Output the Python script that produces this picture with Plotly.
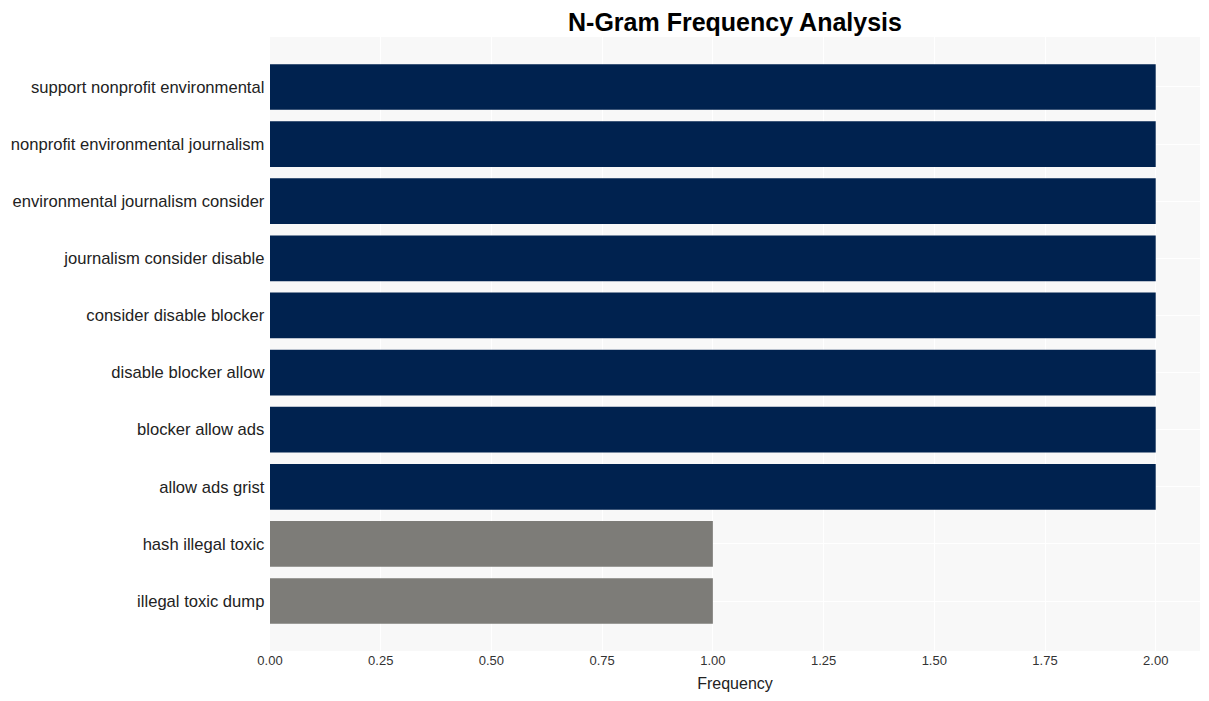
import plotly.graph_objects as go

ngrams = [
    "support nonprofit environmental",
    "nonprofit environmental journalism",
    "environmental journalism consider",
    "journalism consider disable",
    "consider disable blocker",
    "disable blocker allow",
    "blocker allow ads",
    "allow ads grist",
    "hash illegal toxic",
    "illegal toxic dump",
]
frequency = [2, 2, 2, 2, 2, 2, 2, 2, 1, 1]
tick_values = [0, 0.25, 0.5, 0.75, 1.0, 1.25, 1.5, 1.75, 2.0]
tick_labels = ["0.00", "0.25", "0.50", "0.75", "1.00", "1.25", "1.50", "1.75", "2.00"]

NAVY = "#00224f"
GRAY = "#7d7c78"
colors = [NAVY if f >= 2 else GRAY for f in frequency]

fig = go.Figure(
    go.Bar(
        x=frequency,
        y=ngrams,
        orientation="h",
        marker=dict(color=colors, line=dict(width=0)),
    )
)

fig.update_layout(
    width=1209,
    height=701,
    margin=dict(l=262, r=17, t=29, b=58),
    paper_bgcolor="white",
    plot_bgcolor="#f8f8f8",
    bargap=0.2,
    showlegend=False,
    font=dict(family="Liberation Sans, Arial, sans-serif", color="#222"),
    title=dict(
        text="<b>N-Gram Frequency Analysis</b>",
        x=0.5,
        xref="paper",
        xanchor="center",
        y=0.98,
        yref="container",
        yanchor="middle",
        font=dict(size=25, color="#000"),
    ),
)

fig.update_xaxes(
    range=[0, 2.1],
    tickvals=tick_values,
    ticktext=tick_labels,
    showgrid=True,
    gridcolor="white",
    gridwidth=1,
    zeroline=False,
    automargin=False,
    tickfont=dict(size=13, color="#333"),
    title=dict(text="Frequency", font=dict(size=16, color="#222"), standoff=10),
)

fig.update_yaxes(
    categoryorder="array",
    categoryarray=ngrams,
    range=[len(ngrams) - 1 + 0.875, -0.875],
    showgrid=True,
    gridcolor="white",
    gridwidth=1,
    zeroline=False,
    automargin=False,
    tickfont=dict(size=16.6, color="#222"),
    ticksuffix=" ",
)

fig.write_html("out.html")
